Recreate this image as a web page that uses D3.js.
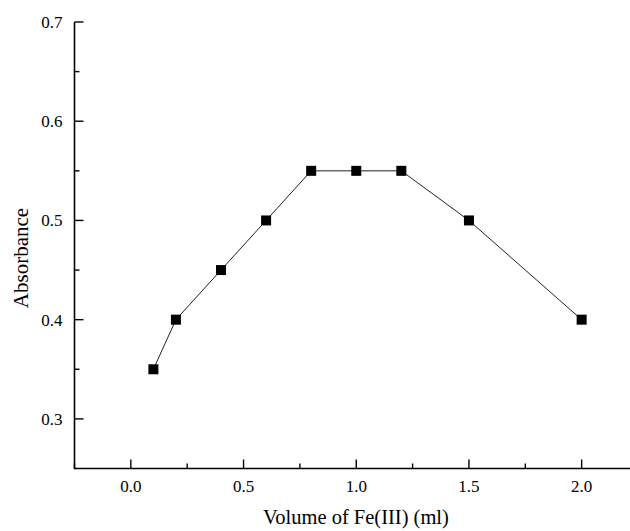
<!DOCTYPE html>
<html>
<head>
<meta charset="utf-8">
<script src="https://cdn.jsdelivr.net/npm/d3@7"></script>
<style>
  body { margin: 0; background: #fff; }
  svg text { font-family: "Liberation Serif", "Times New Roman", serif; fill: #000; }
</style>
</head>
<body>
<svg id="chart"></svg>
<script>
// volume of Fe(III) added (ml) and the measured absorbance
const volumes = [0.1, 0.2, 0.4, 0.6, 0.8, 1.0, 1.2, 1.5, 2.0]
const absorbance = [0.35, 0.40, 0.45, 0.50, 0.55, 0.55, 0.55, 0.50, 0.40]

const xTicks = [0.0, 0.5, 1.0, 1.5, 2.0]
const xMinor = [-0.25, 0.25, 0.75, 1.25, 1.75, 2.25]
const yTicks = [0.3, 0.4, 0.5, 0.6, 0.7]
const yMinor = [0.35, 0.45, 0.55, 0.65]

const drawChart = () => {
    const width = 630
    const height = 531

    const svg = d3.select('#chart')
        .attr('width', width)
        .attr('height', height)

    const x = d3.scaleLinear()
        .domain([-0.25, 2.25])
        .range([74.5, 638])

    const y = d3.scaleLinear()
        .domain([0.25, 0.7])
        .range([468.5, 22])

    const axisColor = '#000'

    // axis lines
    svg.append('line')
        .attr('x1', x(-0.25)).attr('x2', x(2.25))
        .attr('y1', y(0.25)).attr('y2', y(0.25))
        .attr('stroke', axisColor).attr('stroke-width', 1.6)
    svg.append('line')
        .attr('x1', x(-0.25)).attr('x2', x(-0.25))
        .attr('y1', y(0.25) + 0.8).attr('y2', y(0.7))
        .attr('stroke', axisColor).attr('stroke-width', 1.6)

    // x ticks point inward (up)
    svg.selectAll('.xMajor')
        .data(xTicks)
        .join('line')
        .attr('class', 'xMajor')
        .attr('x1', d => x(d)).attr('x2', d => x(d))
        .attr('y1', y(0.25)).attr('y2', y(0.25) - 9)
        .attr('stroke', axisColor).attr('stroke-width', 1.4)
    svg.selectAll('.xMinor')
        .data(xMinor)
        .join('line')
        .attr('class', 'xMinor')
        .attr('x1', d => x(d)).attr('x2', d => x(d))
        .attr('y1', y(0.25)).attr('y2', y(0.25) - 5)
        .attr('stroke', axisColor).attr('stroke-width', 1.4)
    svg.selectAll('.xLabel')
        .data(xTicks)
        .join('text')
        .attr('class', 'xLabel')
        .attr('x', d => x(d))
        .attr('y', y(0.25) + 23)
        .attr('text-anchor', 'middle')
        .attr('font-size', '17px')
        .text(d => d.toFixed(1))

    // y ticks point inward (right)
    svg.selectAll('.yMajor')
        .data(yTicks)
        .join('line')
        .attr('class', 'yMajor')
        .attr('x1', x(-0.25)).attr('x2', x(-0.25) + 9)
        .attr('y1', d => y(d)).attr('y2', d => y(d))
        .attr('stroke', axisColor).attr('stroke-width', 1.4)
    svg.selectAll('.yMinor')
        .data(yMinor)
        .join('line')
        .attr('class', 'yMinor')
        .attr('x1', x(-0.25)).attr('x2', x(-0.25) + 5)
        .attr('y1', d => y(d)).attr('y2', d => y(d))
        .attr('stroke', axisColor).attr('stroke-width', 1.4)
    svg.selectAll('.yLabel')
        .data(yTicks)
        .join('text')
        .attr('class', 'yLabel')
        .attr('x', x(-0.25) - 12)
        .attr('y', d => y(d) + 6)
        .attr('text-anchor', 'end')
        .attr('font-size', '17px')
        .text(d => d.toFixed(1))

    // axis titles
    svg.append('text')
        .attr('x', 356)
        .attr('y', 524)
        .attr('text-anchor', 'middle')
        .attr('font-size', '20.5px')
        .text('Volume of Fe(III) (ml)')
    svg.append('text')
        .attr('transform', 'translate(28, 258) rotate(-90)')
        .attr('text-anchor', 'middle')
        .attr('font-size', '21px')
        .text('Absorbance')

    const points = volumes.map((v, i) => ({ v, a: absorbance[i] }))

    const line = d3.line()
        .x(d => x(d.v))
        .y(d => y(d.a))

    svg.append('path')
        .datum(points)
        .attr('d', line)
        .attr('fill', 'none')
        .attr('stroke', '#222')
        .attr('stroke-width', 1)

    const size = 10
    svg.selectAll('.pt')
        .data(points)
        .join('rect')
        .attr('class', 'pt')
        .attr('x', d => x(d.v) - size / 2)
        .attr('y', d => y(d.a) - size / 2)
        .attr('width', size)
        .attr('height', size)
        .attr('fill', '#000')
}

drawChart()
</script>
</body>
</html>
